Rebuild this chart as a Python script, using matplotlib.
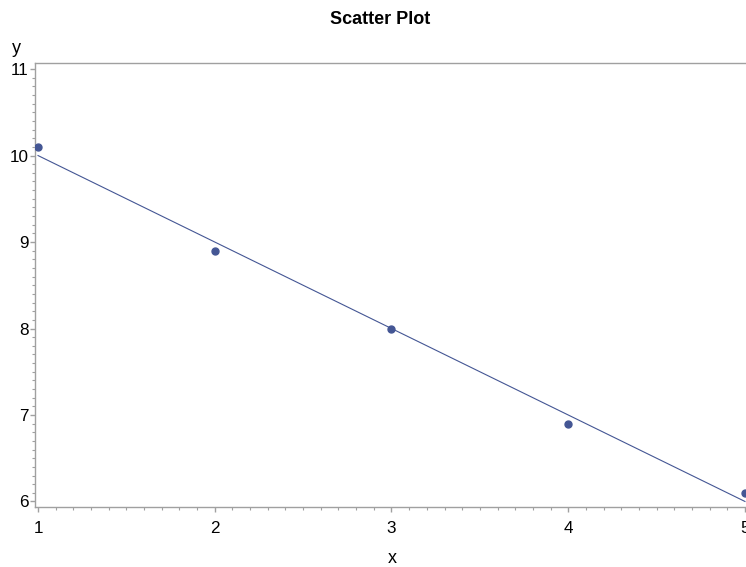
import numpy as np
import matplotlib
matplotlib.use("Agg")
import matplotlib.pyplot as plt
from matplotlib.ticker import AutoMinorLocator

x = [1, 2, 3, 4, 5]
y = [10.1, 8.9, 8.0, 6.9, 6.1]
x_ticks = [1, 2, 3, 4, 5]
y_ticks = [6, 7, 8, 9, 10, 11]

plt.rcParams['font.family'] = ['Liberation Sans', 'DejaVu Sans']
color = '#445694'
axis_color = '#a0a0a0'

fig = plt.figure(figsize=(7.46, 5.67), dpi=100)
W, H = 746, 567
ax = fig.add_axes([35 / W, 60 / H, 713.5 / W, 444 / H])

slope, intercept = np.polyfit(x, y, 1)
xs = np.array([min(x), max(x)])
ax.plot(xs, slope * xs + intercept, color=color, lw=0.8, zorder=2)
ax.plot(x, y, 'o', color=color, ms=5, zorder=3)

ax.set_xlim(0.983, 5.02)
ax.set_ylim(5.936, 11.07)
ax.set_xticks(x_ticks)
ax.set_yticks(y_ticks)
ax.xaxis.set_minor_locator(AutoMinorLocator(10))
ax.yaxis.set_minor_locator(AutoMinorLocator(10))

for s in ['left', 'bottom', 'top', 'right']:
    ax.spines[s].set_color(axis_color)
    ax.spines[s].set_linewidth(1.0)

ax.tick_params(which='major', length=3.6, width=1, color=axis_color,
               labelsize=12.3, labelcolor='black')
ax.tick_params(which='minor', length=2.2, width=0.8, color=axis_color)
ax.tick_params(axis='y', which='major', pad=1)
ax.tick_params(axis='x', which='major', pad=6.5)

fig.text(16 / W, 1 - 53 / H, 'y', fontsize=13, ha='center', va='baseline')
fig.text(392 / W, 1 - 563 / H, 'x', fontsize=13, ha='center', va='baseline')
fig.text(380 / W, 1 - 24 / H, 'Scatter Plot', fontsize=13, fontweight='bold',
         ha='center', va='baseline')

fig.savefig('out.png', dpi=100)
